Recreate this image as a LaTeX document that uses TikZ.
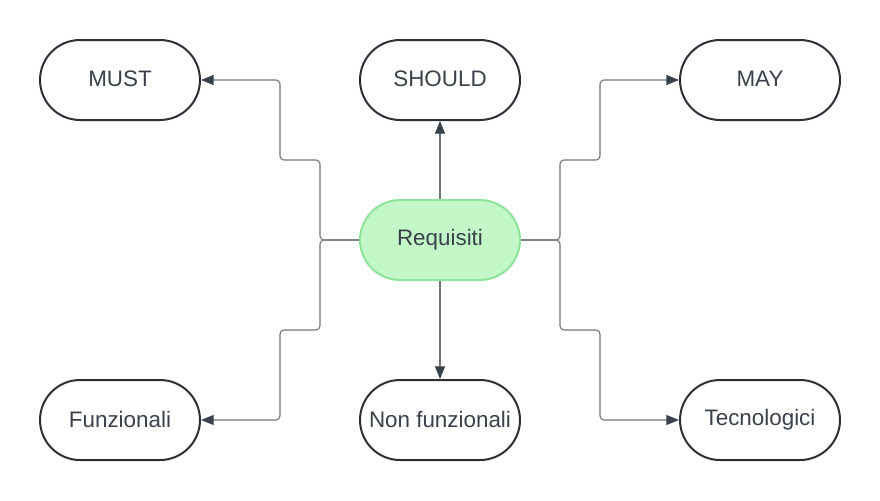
\documentclass[tikz,border=0pt]{standalone}
\usepackage{fontspec}
\setmainfont{Liberation Sans}
\usetikzlibrary{arrows.meta}
\definecolor{txt}{HTML}{3A414A}
\definecolor{bord}{HTML}{2B3036}
\definecolor{linec}{HTML}{6E737A}
\definecolor{tipc}{HTML}{3A414A}
\definecolor{gfill}{HTML}{C3F7C8}
\definecolor{gbord}{HTML}{8FE39B}
\tikzset{
  stad/.style={draw=bord, line width=1.5pt, rounded corners=30pt, minimum width=120pt, minimum height=60pt, inner sep=0pt, text=txt, font=\fontsize{16.8}{19}\selectfont, fill=white},
  greenstad/.style={stad, draw=gbord, fill=gfill},
  conn/.style={draw=linec, line width=0.8pt, rounded corners=3pt, -{Triangle[length=9.5pt,width=7.5pt,color=tipc]}},
}
\begin{document}
\begin{tikzpicture}[x=0.75pt,y=-0.75pt]
\useasboundingbox (0,0) rectangle (880,500);
\node[stad] (must) at (120,80) {\raisebox{1.5pt}{MUST}};
\node[stad] (should) at (440,80) {\raisebox{1.5pt}{SHOULD}};
\node[stad] (may) at (760,80) {\raisebox{1.5pt}{MAY}};
\node[greenstad] (req) at (440,240) {\raisebox{1.5pt}{Requisiti}};
\node[stad] (funz) at (120,420) {\raisebox{1.5pt}{Funzionali}};
\node[stad] (nonf) at (440,420) {\raisebox{1.5pt}{Non funzionali}};
\node[stad] (tec) at (760,420) {\raisebox{1.5pt}{Tecnologici}};
\coordinate (l1) at (320,160);
\coordinate (l2) at (280,80);
\coordinate (l3) at (320,330);
\coordinate (l4) at (280,420);
\coordinate (r1) at (560,160);
\coordinate (r2) at (600,80);
\coordinate (r3) at (560,330);
\coordinate (r4) at (600,420);
\draw[conn] (req.west) -| (l1) -| (l2) -- (must.east);
\draw[conn] (req.west) -| (l3) -| (l4) -- (funz.east);
\draw[conn] (req.east) -| (r1) -| (r2) -- (may.west);
\draw[conn] (req.east) -| (r3) -| (r4) -- (tec.west);
\draw[conn] (req.north) -- (should.south);
\draw[conn] (req.south) -- (nonf.north);
\end{tikzpicture}
\end{document}
